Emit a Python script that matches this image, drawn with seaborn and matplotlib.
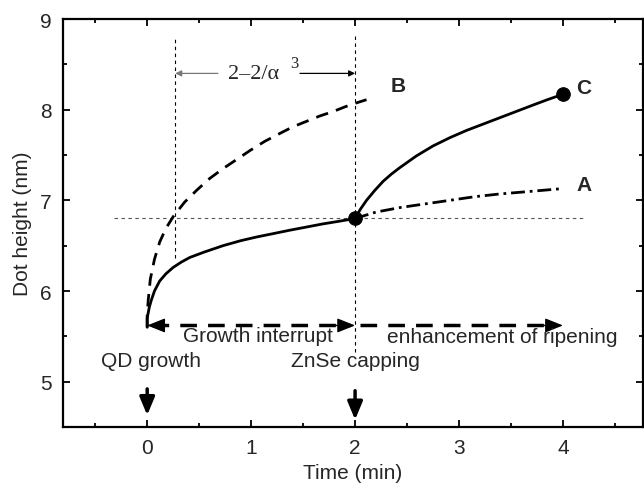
import matplotlib
matplotlib.use("Agg")
import matplotlib.pyplot as plt
import seaborn as sns
from matplotlib.ticker import MultipleLocator

# curve: growth before interrupt (solid)
t_base = [0.0, 0.0, 0.01, 0.02, 0.04, 0.07, 0.12, 0.18, 0.25, 0.33, 0.41, 0.55,
          0.73, 0.9, 1.05, 1.2, 1.37, 1.53, 1.69, 1.85, 2.0]
h_base = [5.6, 5.7, 5.76, 5.82, 5.9, 6.0, 6.11, 6.19, 6.26, 6.32, 6.37, 6.43,
          6.50, 6.555, 6.595, 6.63, 6.67, 6.705, 6.74, 6.77, 6.80]

# curve A: ripening without capping (dash-dot)
t_a = [2.0, 2.2, 2.43, 2.67, 2.91, 3.15, 3.39, 3.7, 4.0]
h_a = [6.80, 6.87, 6.92, 6.96, 7.00, 7.04, 7.07, 7.10, 7.13]

# curve B: fast ripening (dashed)
t_b = [0.0, 0.0, 0.01, 0.03, 0.07, 0.12, 0.18, 0.25, 0.36, 0.475, 0.6, 0.73, 0.86,
       0.99, 1.13, 1.28, 1.4, 1.53, 1.66, 1.79, 1.9, 2.0, 2.11]
h_b = [5.6, 5.75, 5.9, 6.13, 6.35, 6.54, 6.69, 6.82, 6.98, 7.11, 7.24, 7.35, 7.45,
       7.55, 7.65, 7.74, 7.81, 7.87, 7.93, 7.98, 8.03, 8.07, 8.11]

# curve C: enhanced ripening after ZnSe capping (solid)
t_c = [2.0, 2.05, 2.11, 2.19, 2.27, 2.35, 2.43, 2.59, 2.75, 2.91, 3.07, 3.23,
       3.39, 3.55, 3.71, 3.85, 4.0]
h_c = [6.80, 6.90, 7.00, 7.11, 7.21, 7.29, 7.36, 7.49, 7.60, 7.69, 7.77, 7.84,
       7.91, 7.98, 8.05, 8.11, 8.17]

dot_t = [2.0, 4.0]
dot_h = [6.80, 8.17]

x_ticks = [0, 1, 2, 3, 4]
y_ticks = [5, 6, 7, 8, 9]

sns.set_theme(style="ticks")
plt.rcParams["font.family"] = ["Liberation Sans", "DejaVu Sans"]
plt.rcParams["lines.scale_dashes"] = False

fig = plt.figure(figsize=(6.44, 4.85), dpi=100)
ax = fig.add_axes([63 / 644, 1 - 428 / 485, 580 / 644, 408 / 485])

# guide lines
guide = dict(color="black", lw=0.8, dashes=(2.5, 2.5))
ax.plot([0.27, 0.27], [6.36, 8.81], **guide)
ax.plot([2.0, 2.0], [5.33, 8.81], **guide)
ax.plot([-0.32, 4.22], [6.8, 6.8], color="#555555", lw=0.8, dashes=(2.5, 2.5))

# curves
sns.lineplot(x=t_base, y=h_base, ax=ax, color="black", lw=2, sort=False, estimator=None)
sns.lineplot(x=t_c, y=h_c, ax=ax, color="black", lw=2, sort=False, estimator=None)
ax.plot(t_a, h_a, color="black", lw=2, dashes=(10, 3.5, 2, 3.5))
ax.plot(t_b, h_b, color="black", lw=2, dashes=(9, 6))
sns.scatterplot(x=dot_t, y=dot_h, ax=ax, color="black", s=95, edgecolor="black", zorder=5)

# big dashed arrows at the bottom
arrow_y = 5.62
ax.plot([0.05, 1.95], [arrow_y, arrow_y], color="black", lw=2.5, dashes=(12, 8))
ax.plot([2.05, 3.92], [arrow_y, arrow_y], color="black", lw=2.5, dashes=(12, 8))
head = dict(arrowstyle="-|>,head_length=0.5,head_width=0.2", color="black", lw=1,
            mutation_scale=22, shrinkA=0, shrinkB=0)
ax.annotate("", xy=(0.0, arrow_y), xytext=(0.2, arrow_y), arrowprops=head)
ax.annotate("", xy=(2.0, arrow_y), xytext=(1.8, arrow_y), arrowprops=head)
ax.annotate("", xy=(4.0, arrow_y), xytext=(3.8, arrow_y), arrowprops=head)

# downward arrows
down = dict(arrowstyle="-|>,head_length=0.6,head_width=0.25", color="black", lw=2.5,
            mutation_scale=18, shrinkA=0, shrinkB=0)
ax.annotate("", xy=(0.0, 4.63), xytext=(0.0, 4.92), arrowprops=down)
ax.annotate("", xy=(2.0, 4.58), xytext=(2.0, 4.90), arrowprops=down)

# 2-2/alpha^3 span
thin = dict(arrowstyle="-|>", color="black", lw=0.9, mutation_scale=9, shrinkA=0, shrinkB=0)
ax.annotate("", xy=(0.27, 8.40), xytext=(0.68, 8.40),
            arrowprops=dict(thin, color="#777777"))
ax.annotate("", xy=(2.0, 8.40), xytext=(1.47, 8.40), arrowprops=thin)
ax.text(1.02, 8.40, "2\u20132/\u03b1", ha="center", va="center", fontsize=16,
        family=["Liberation Serif", "DejaVu Serif"])
ax.text(1.42, 8.52, "3", ha="center", va="center", fontsize=12,
        family=["Liberation Serif", "DejaVu Serif"])

# labels
fs = 15
ax.text(0.04, 5.23, "QD growth", ha="center", va="center", fontsize=fs)
ax.text(2.0, 5.23, "ZnSe capping", ha="center", va="center", fontsize=fs)
ax.text(1.07, 5.51, "Growth interrupt", ha="center", va="center", fontsize=fs)
ax.text(3.42, 5.50, "enhancement of ripening", ha="center", va="center", fontsize=fs)
ax.text(4.2, 7.18, "A", ha="center", va="center", fontsize=fs, fontweight="bold")
ax.text(2.41, 8.27, "B", ha="center", va="center", fontsize=fs, fontweight="bold")
ax.text(4.2, 8.25, "C", ha="center", va="center", fontsize=fs, fontweight="bold")

ax.set_xlim(-0.81, 4.77)
ax.set_ylim(4.5, 9.0)
ax.set_xticks(x_ticks)
ax.set_yticks(y_ticks)
ax.xaxis.set_minor_locator(MultipleLocator(0.5))
ax.yaxis.set_minor_locator(MultipleLocator(0.5))
ax.tick_params(which="both", direction="in", top=True, right=True, color="black",
               labelsize=fs, width=1.3)
ax.tick_params(which="major", length=5, pad=8)
ax.tick_params(which="minor", length=3)
for sp in ax.spines.values():
    sp.set_linewidth(1.6)
    sp.set_color("black")

ax.set_xlabel("Time (min)", fontsize=fs, labelpad=4)
ax.set_ylabel("Dot height (nm)", fontsize=fs, labelpad=6)

fig.savefig("out.png", dpi=100)
